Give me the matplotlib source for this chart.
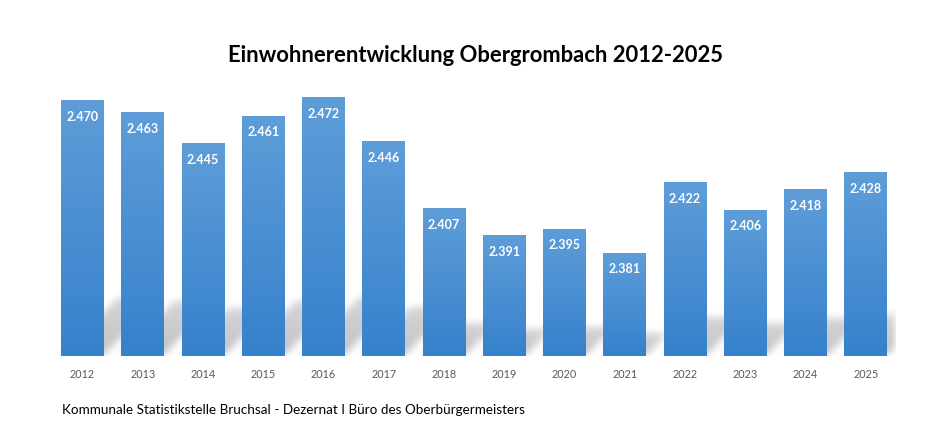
import numpy as np
import matplotlib
matplotlib.use('Agg')
import matplotlib.pyplot as plt
from matplotlib.colors import LinearSegmentedColormap

plt.rcParams['font.family'] = ['Lato', 'DejaVu Sans']

years = ['2012', '2013', '2014', '2015', '2016', '2017', '2018',
         '2019', '2020', '2021', '2022', '2023', '2024', '2025']
einwohner = [2470, 2463, 2445, 2461, 2472, 2446, 2407,
             2391, 2395, 2381, 2422, 2406, 2418, 2428]
labels = ['2.470', '2.463', '2.445', '2.461', '2.472', '2.446', '2.407',
          '2.391', '2.395', '2.381', '2.422', '2.406', '2.418', '2.428']

title = 'Einwohnerentwicklung Obergrombach 2012-2025'
quelle = 'Kommunale Statistikstelle Bruchsal - Dezernat I Büro des Oberbürgermeisters'

W, H = 925, 447
fig = plt.figure(figsize=(W / 100, H / 100), dpi=100)
ax_l, ax_r, ax_b, ax_t = 52.4, 896, 356, 60
ax = fig.add_axes([ax_l / W, (H - ax_b) / H, (ax_r - ax_l) / W, (ax_b - ax_t) / H])

ybase, ytop = 2320.7, 2494.0
ax.set_xlim(-0.5, len(years) - 0.5)
ax.set_ylim(ybase, ytop)
bw = 0.713

# schatten (blurred parallelograms behind the bars)
nx, ny = int(ax_r - ax_l), int(ax_b - ax_t)
px_per_unit = ny / (ytop - ybase)
shadow = np.zeros((ny, nx))
colw = nx / len(years)
for i, v in enumerate(einwohner):
    hs = 0.23 * (v - ybase) * px_per_unit
    skew = 1.0 * hs
    x0 = (i + 0.5 - bw / 2) * colw
    x1 = (i + 0.5 + bw / 2) * colw
    for r in range(int(hs)):
        row = ny - 1 - r
        off = r * skew / hs
        c0 = int(max(0, x0 + off))
        c1 = int(min(nx, x1 + off))
        if c1 > c0:
            shadow[row, c0:c1] = np.maximum(shadow[row, c0:c1], 1.0 - 0.3 * r / hs)

def blur(a, rad):
    k = np.ones(2 * rad + 1) / (2 * rad + 1)
    a = np.apply_along_axis(lambda m: np.convolve(m, k, mode='same'), 0, a)
    a = np.apply_along_axis(lambda m: np.convolve(m, k, mode='same'), 1, a)
    return a

shadow = blur(blur(shadow, 4), 4)
rgba = np.zeros((ny, nx, 4))
rgba[..., 3] = shadow * 0.24
ax.imshow(rgba, extent=(-0.5, len(years) - 0.5, ybase, ytop), aspect='auto',
          origin='upper', zorder=1, interpolation='bilinear')

# bars with vertical gradient
cmap = LinearSegmentedColormap.from_list('bar', ['#3681cc', '#5e9dd8'])
grad = np.linspace(0, 1, 256).reshape(-1, 1)
for i, v in enumerate(einwohner):
    ax.imshow(grad, extent=(i - bw / 2, i + bw / 2, ybase, v), cmap=cmap,
              origin='lower', aspect='auto', zorder=2)
    ax.text(i, v - 16 / px_per_unit, labels[i], ha='center', va='center',
            color='white', fontsize=9, fontweight='bold', zorder=3)

ax.set_xticks(range(len(years)))
ax.set_xticklabels(years, fontsize=7.8, color='#595959')
ax.tick_params(axis='x', length=0, pad=9)
ax.set_yticks([])
for s in ax.spines.values():
    s.set_visible(False)
ax.set_xlim(-0.5, len(years) - 0.5)
ax.set_ylim(ybase, ytop)

fig.text(475 / W, 1 - 55 / H, title, ha='center', va='center',
         fontsize=15.8, fontweight='bold', color='black')
fig.text(62 / W, 1 - 410 / H, quelle, ha='left', va='center',
         fontsize=9.75, color='black')

fig.savefig('out.png', dpi=100, facecolor='white')
